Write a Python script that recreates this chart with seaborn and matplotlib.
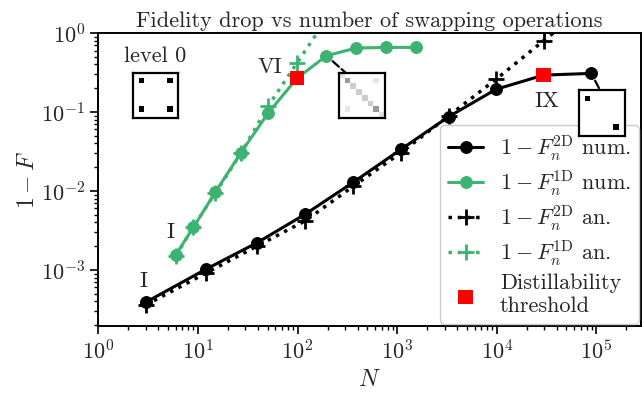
import numpy as np
import pandas as pd
import seaborn as sns
import matplotlib.pyplot as plt

# number of nodes N at each swapping level and infidelities
n_2d = [3, 12, 39, 120, 363, 1092, 3279, 9840, 29523, 88572]
num_2d = [3.9e-4, 1.02e-3, 2.2e-3, 5.1e-3, 0.0129, 0.0336, 0.087, 0.194, 0.293, 0.308]
an_2d = [3.6e-4, 9.1e-4, 2.0e-3, 4.2e-3, 0.0115, 0.0305, 0.089, 0.26, 0.80, 2.4]

n_1d = [6, 9, 15, 27, 51, 99, 195, 387, 771, 1539]
num_1d = [1.56e-3, 3.46e-3, 9.7e-3, 0.0305, 0.098, 0.268, 0.515, 0.645, 0.657, 0.657]
an_1d = [1.5e-3, 3.5e-3, 9.5e-3, 0.030, 0.12, 0.42, 1.5]

# level at which distillability is lost (index into the num arrays)
thr_1d = 5   # VI
thr_2d = 8   # IX

# small density matrix snapshots (8x8), value = grey level
lvl0_cells = [(1, 1), (1, 6), (6, 1), (6, 6)]
lvl0_vals = [1, 1, 1, 1]
diag_vals = [0.12, 0.4, 0.2, 0.2, 0.2, 0.2, 0.4, 0.12]
offd_cells = [(1, 6), (6, 1)]
offd_vals = [0.1, 0.1]
lvl10_cells = [(1, 1), (6, 6)]
lvl10_vals = [1, 1]

green = 'mediumseagreen'

sns.set_style('ticks')
plt.rcParams['font.family'] = 'serif'
plt.rcParams['font.serif'] = ['cmr10', 'DejaVu Serif']
plt.rcParams['mathtext.fontset'] = 'cm'
plt.rcParams['axes.formatter.use_mathtext'] = True
plt.rcParams['font.size'] = 16

fig, ax = plt.subplots(figsize=(6.42, 4.03), dpi=100)
fig.subplots_adjust(left=98.3 / 642, right=641 / 642, top=1 - 33 / 403, bottom=1 - 326 / 403)

sns.lineplot(x=n_2d, y=num_2d, ax=ax, color='k', lw=2.2, marker='o', ms=8.5,
             mec='k', label=r'$1-F_n^{\rm 2D}$ num.', zorder=3)
sns.lineplot(x=n_1d, y=num_1d, ax=ax, color=green, lw=2.2, marker='o', ms=8.5,
             mec=green, label=r'$1-F_n^{\rm 1D}$ num.', zorder=3)
sns.lineplot(x=n_2d, y=an_2d, ax=ax, color='k', lw=2.5, ls=':', marker='+', ms=12,
             mew=2, mec='k', label=r'$1-F_n^{\rm 2D}$ an.', zorder=2)
sns.lineplot(x=n_1d[:len(an_1d)], y=an_1d, ax=ax, color=green, lw=2.5, ls=':', marker='+',
             ms=12, mew=2, mec=green, label=r'$1-F_n^{\rm 1D}$ an.', zorder=2)
thr = pd.DataFrame({'N': [n_1d[thr_1d], n_2d[thr_2d]], 'F': [num_1d[thr_1d], num_2d[thr_2d]]})
sns.scatterplot(data=thr, x='N', y='F', ax=ax, color='red', marker='s', s=110,
                edgecolor='none', label='Distillability\nthreshold', zorder=4)

ax.set_xscale('log')
ax.set_yscale('log')
ax.set_xlim(1, 2.8e5)
ax.set_ylim(1.95e-4, 1)
ax.set_xticks([1, 10, 100, 1e3, 1e4, 1e5])
ax.set_yticks([1e-3, 1e-2, 1e-1, 1])
ax.set_xlabel('$N$', fontsize=17)
ax.set_ylabel('$1-F$', fontsize=17, labelpad=1)
ax.set_title('Fidelity drop vs number of swapping operations', fontsize=16, pad=4)
for s in ax.spines.values():
    s.set_linewidth(1.4)
    s.set_color('k')
ax.tick_params(which='major', direction='out', length=6, width=1.2, color='k')
ax.tick_params(which='minor', direction='out', length=3, width=1, color='k')

ax.text(5.3, 2.96e-3, 'I', ha='center', va='center')
ax.text(2.83, 7.1e-4, 'I', ha='center', va='center')
ax.text(53, 0.366, 'VI', ha='center', va='center')
ax.text(31600, 0.138, 'IX', ha='center', va='center')
ax.text(0.105, 0.921, 'level 0', transform=ax.transAxes, ha='center', va='center')


def matrix(cells, vals, diag=None):
    m = np.zeros((8, 8))
    if diag is not None:
        m[np.arange(8), np.arange(8)] = diag
    for (i, j), v in zip(cells, vals):
        m[i, j] = v
    return m


def inset(bounds, m):
    ia = ax.inset_axes(bounds, zorder=7)
    ia.imshow(m, cmap='gray_r', vmin=0, vmax=1, aspect='auto', interpolation='nearest')
    ia.set_xticks([])
    ia.set_yticks([])
    for s in ia.spines.values():
        s.set_linewidth(1.6)
        s.set_color('k')
    return ia


inset([0.0634, 0.709, 0.084, 0.1556], matrix(lvl0_cells, lvl0_vals))
inset([0.4435, 0.709, 0.084, 0.1556], matrix(offd_cells, offd_vals, diag_vals))
inset([0.8863, 0.6495, 0.084, 0.1556], matrix(lvl10_cells, lvl10_vals))

ax.annotate('', xy=(0.4563, 0.8635), xycoords='axes fraction',
            xytext=(n_1d[6], num_1d[6]), textcoords='data',
            arrowprops=dict(arrowstyle='-', ls='--', lw=1.6, color='k', shrinkA=6, shrinkB=0))
ax.annotate('', xy=(0.9244, 0.8055), xycoords='axes fraction',
            xytext=(n_2d[9], num_2d[9]), textcoords='data',
            arrowprops=dict(arrowstyle='-', ls='--', lw=1.6, color='k', shrinkA=6, shrinkB=0))

ax.legend(loc='lower right', borderaxespad=0.1, handlelength=1.6, handletextpad=0.75,
          labelspacing=0.25, borderpad=0.35, framealpha=1, fontsize=16)

fig.savefig('out.png', dpi=100)
